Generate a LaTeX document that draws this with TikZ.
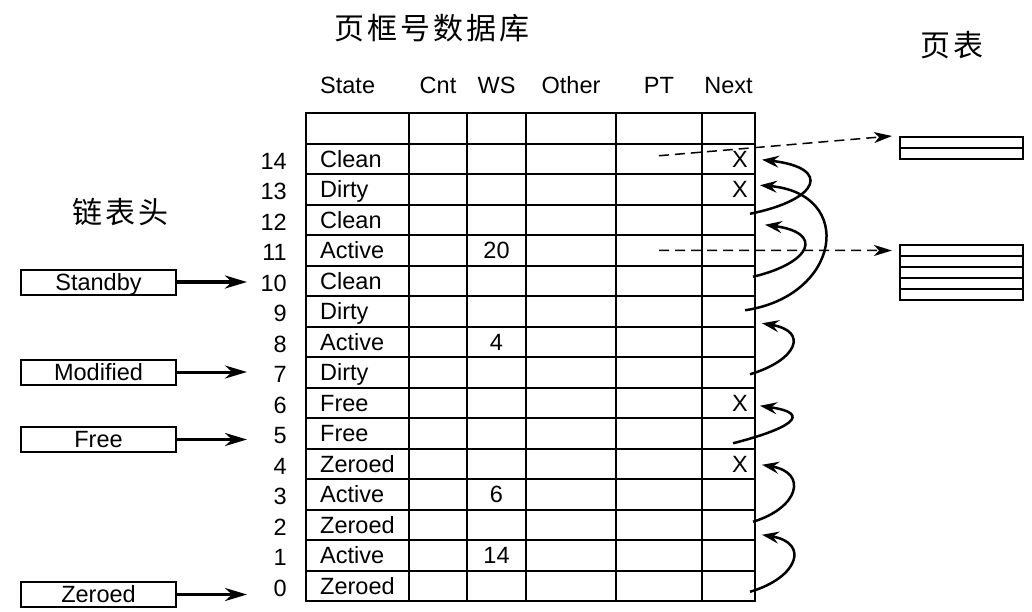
\documentclass[tikz,border=0pt]{standalone}
\usepackage{fontspec}
\setmainfont{Liberation Sans}
\newfontfamily\cjk{Noto Sans CJK SC}[LetterSpace=10]
\usetikzlibrary{arrows.meta,positioning}

\begin{document}
\begin{tikzpicture}[x=1pt,y=-1pt,font=\fontsize{23.5}{26}\selectfont,
   cell/.style={draw,line width=2pt,inner sep=0pt,outer sep=0pt,minimum height=30.5pt},
   txt/.style={inner sep=0pt,text height=16.8pt,text depth=0pt},
   head/.style={draw,line width=2pt,inner sep=0pt,minimum width=155pt,minimum height=25pt,text height=16.8pt,text depth=0pt},
   hdarr/.style={-{Stealth[length=22pt,width=13pt,inset=7pt]},line width=3pt},
   lnk/.style={-{Stealth[length=17pt,width=12pt,inset=6pt]},line width=2.5pt},
   ptr/.style={-{Stealth[length=18pt,width=11pt,inset=5pt]},line width=1.5pt,dash pattern=on 10pt off 6pt},
   pgrow/.style={draw,line width=2pt,inner sep=0pt,minimum width=123pt,minimum height=11pt},
   cjkt/.style={font=\cjk\fontsize{30}{32}\selectfont}]
  \useasboundingbox (0,0) rectangle (1032,611);
  \foreach \cx/\cw/\cn in {306/103/st,409/58/cnt,467/59/ws,526/90/oth,616/86/pt,702/53/nxt}
    \foreach \r in {0,...,15}{
      \pgfmathtruncatemacro\k{15-\r}
      \node[cell,minimum width=\cw pt] (\cn-\k) at ({\cx+\cw/2},{113+30.5*\r+15.25}) {};
    }
  \node[txt,anchor=west] (h-st) at ([xshift=14pt,yshift=28pt]st-15.north west) {State};
  \foreach \cn/\tx in {cnt/Cnt,ws/WS,oth/Other,pt/PT,nxt/Next}
    \node[txt,above=19.6pt of \cn-15] (h-\cn) {\tx};
  \foreach \k/\s in {14/Clean,13/Dirty,12/Clean,11/Active,10/Clean,9/Dirty,8/Active,7/Dirty,6/Free,5/Free,4/Zeroed,3/Active,2/Zeroed,1/Active,0/Zeroed}{
    \node[txt,anchor=east] (n-\k) at ([xshift=-19pt,yshift=-2pt]st-\k.west) {\k};
    \node[txt,anchor=west] (s-\k) at ([xshift=14pt]st-\k.west) {\s};
  }
  \foreach \k/\v in {11/20,8/4,3/6,1/14}
    \node[txt] (w-\k) at (ws-\k) {\v};
  \foreach \k in {14,13,6,4}
    \node[txt,anchor=east] (x-\k) at ([xshift=-7pt]nxt-\k.east) {X};

  \node[cjkt] (ttl) at (432,28) {页框号数据库};
  \node[cjkt] (pgt) at (952,45) {页表};
  \node[cjkt] (hdt) at (120,212) {链表头};

  \node[head] (sb) at (98.5,282) {Standby};
  \node[head] (md) at (98.5,372) {Modified};
  \node[head] (fr) at (98.5,439.5) {Free};
  \node[head] (zr) at (98.5,594.5) {Zeroed};
  \coordinate (lane) at (247,0);
  \draw[hdarr,line width=4.5pt] (sb) -- (sb -| lane);
  \foreach \h in {md,fr,zr}
    \draw[hdarr] (\h) -- (\h -| lane);

  \foreach \f/\t/\sx/\sy/\tx/\ty/\a in {12/14/-5/-6/7/1/70,10/12/-2/-4/10/5/59,9/13/-10/-1/5/-4/96,7/9/-5/2/7/12/47,5/6/-22/10/5/3/55,2/4/-2/-3/7/1/46,0/2/-5/6/7/10/48}
    \draw[lnk] ([shift={(\sx,\sy)}]nxt-\f.east) .. controls +(\a,-14) and +(\a,8) .. ([shift={(\tx,\ty)}]nxt-\t.east);

  \foreach \i in {1,2}
    \node[pgrow] (pg1-\i) at (961.5,{137+11*(\i-1)+5.5}) {};
  \foreach \i in {1,...,5}
    \node[pgrow] (pg2-\i) at (961.5,{245+11*(\i-1)+5.5}) {};
  \draw[ptr] ([yshift=3pt]pt-14.center) -- ([xshift=-7pt]pg1-1.north west);
  \draw[ptr] (pt-11.center) -- ([xshift=-7pt]pg2-1.west);
\end{tikzpicture}
\end{document}
